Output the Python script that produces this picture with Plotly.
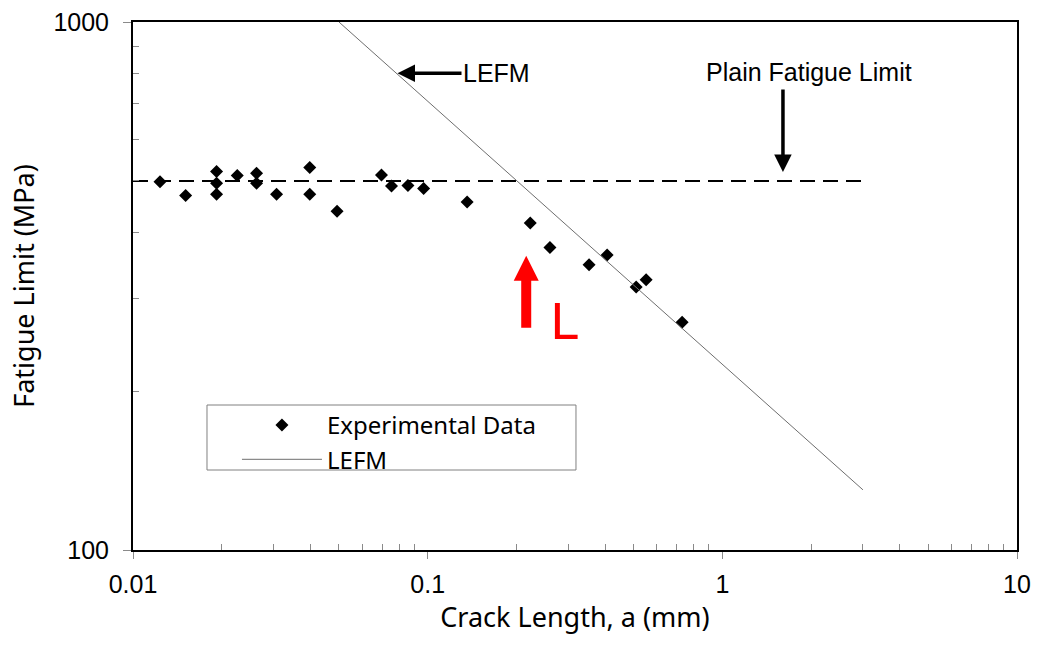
import numpy as np
import plotly.graph_objects as go

# ---- data ----
exp_a = [0.01235, 0.01509, 0.01921, 0.01921, 0.01921, 0.02258, 0.02626, 0.02626,
         0.0307, 0.0398, 0.0398, 0.04926, 0.0697, 0.0754, 0.0857, 0.0969,
         0.1361, 0.2229, 0.26, 0.353, 0.4065, 0.51, 0.5513, 0.7303]
exp_s = [498, 469, 521, 495, 472, 512, 517, 495,
         472, 530, 472, 438, 513, 489, 490, 484,
         456, 416, 374, 347, 362, 315, 325, 270]

lefm_a = [0.05, 3.0]
lefm_s = [1000, 130]

plain_a = [0.01, 3.0]
plain_s = [500, 500]

x_tickvals = [0.01, 0.1, 1, 10]
x_ticktext = ["0.01", "0.1", "1", "10"]
y_tickvals = [100, 1000]
y_ticktext = ["100", "1000"]
x_minor = [m * d for d in (0.01, 0.1, 1) for m in range(2, 10)]
y_minor = [m * 100 for m in range(2, 10)]

# annotation anchors (data units)
lefm_arrow_tip = (0.079, 800)
pfl_arrow_tip = (1.606, 520)
pfl_text_pos = (1.97, 805)
L_value = 0.216
L_arrow_tip_s = 361
L_text_pos = (0.29, 270)

# legend frame (paper fractions)
legend_box = dict(x0=0.0837, x1=0.5011, y0=0.1515, y1=0.2746)

TICKFONT = dict(family="Liberation Sans, Arial, sans-serif", size=25, color="black")
TITLEFONT = "Noto Sans, sans-serif"
GRAY = "#8a8a8a"

fig = go.Figure()

fig.add_trace(go.Scatter(
    x=plain_a, y=plain_s, mode="lines", showlegend=False,
    line=dict(color="black", width=2, dash="15px,8px"), hoverinfo="skip"))

fig.add_trace(go.Scatter(
    x=exp_a, y=exp_s, mode="markers", name="Experimental Data",
    marker=dict(symbol="diamond", size=10, color="black")))

fig.add_trace(go.Scatter(
    x=lefm_a, y=lefm_s, mode="lines", name="LEFM",
    line=dict(color="#6e6e6e", width=1)))

fig.update_xaxes(
    type="log", range=[-2, 1], showgrid=False, zeroline=False,
    showline=True, linecolor="black", linewidth=2, mirror=True,
    tickmode="array", tickvals=x_tickvals, ticktext=x_ticktext,
    ticks="outside", ticklen=7, tickcolor=GRAY, tickwidth=1,
    tickfont=TICKFONT, ticklabelstandoff=4,
    minor=dict(tickmode="array", tickvals=x_minor, ticks="inside",
               ticklen=6, tickcolor=GRAY, tickwidth=1, showgrid=False),
    title=dict(text="Crack Length, a (mm)",
               font=dict(family=TITLEFONT, size=27, color="black"), standoff=8),
)
fig.update_yaxes(
    type="log", range=[2, 3], showgrid=False, zeroline=False,
    showline=True, linecolor="black", linewidth=2, mirror=True,
    tickmode="array", tickvals=y_tickvals, ticktext=y_ticktext,
    ticks="outside", ticklen=8, tickcolor=GRAY, tickwidth=1,
    tickfont=TICKFONT, ticklabelstandoff=9,
    minor=dict(tickmode="array", tickvals=y_minor, ticks="inside",
               ticklen=6, tickcolor=GRAY, tickwidth=1, showgrid=False),
    title=dict(text="Fatigue Limit (MPa)",
               font=dict(family=TITLEFONT, size=27, color="black"), standoff=11),
)

ANN_FONT = dict(family="Liberation Sans, Arial, sans-serif", size=25, color="black")

fig.add_annotation(
    x=np.log10(lefm_arrow_tip[0]), y=np.log10(lefm_arrow_tip[1]),
    xref="x", yref="y", text="LEFM", font=ANN_FONT,
    showarrow=True, arrowhead=2, arrowsize=1, arrowwidth=3.5, arrowcolor="black",
    ax=99, ay=0, standoff=0)

fig.add_annotation(
    x=np.log10(pfl_arrow_tip[0]), y=np.log10(pfl_arrow_tip[1]),
    xref="x", yref="y", text="",
    showarrow=True, arrowhead=2, arrowsize=1, arrowwidth=3.5, arrowcolor="black",
    ax=0, ay=-84, standoff=0)

fig.add_annotation(
    x=np.log10(pfl_text_pos[0]), y=np.log10(pfl_text_pos[1]),
    xref="x", yref="y", text="Plain Fatigue Limit", font=ANN_FONT,
    showarrow=False, xanchor="center", yanchor="middle")

fig.add_annotation(
    x=np.log10(L_text_pos[0]), y=np.log10(L_text_pos[1]),
    xref="x", yref="y", text="L",
    font=dict(family="DejaVu Sans, sans-serif", size=50, color="#ff0000"),
    showarrow=False, xanchor="center", yanchor="middle")

# red arrow (pixel-sized, anchored at the L value)
fig.add_shape(
    type="path", xref="x", yref="y",
    xsizemode="pixel", ysizemode="pixel",
    xanchor=L_value, yanchor=L_arrow_tip_s,
    path="M0,0 L12.5,-25 L5,-25 L5,-72 L-5,-72 L-5,-25 L-12.5,-25 Z",
    fillcolor="#ff0000", line=dict(width=0))

# legend frame
fig.add_shape(type="rect", xref="paper", yref="paper", layer="below",
              fillcolor="white", line=dict(color="#808080", width=1),
              **legend_box)

fig.update_layout(
    width=1037, height=666,
    margin=dict(l=133, r=20, t=22, b=116, autoexpand=False),
    plot_bgcolor="white", paper_bgcolor="white",
    legend=dict(x=0.1176, y=0.2784, xanchor="left", yanchor="top",
                bgcolor="rgba(0,0,0,0)", borderwidth=0,
                font=dict(family=TITLEFONT, size=24, color="black"),
                itemwidth=80, tracegroupgap=0),
)

fig.write_html("out.html")
